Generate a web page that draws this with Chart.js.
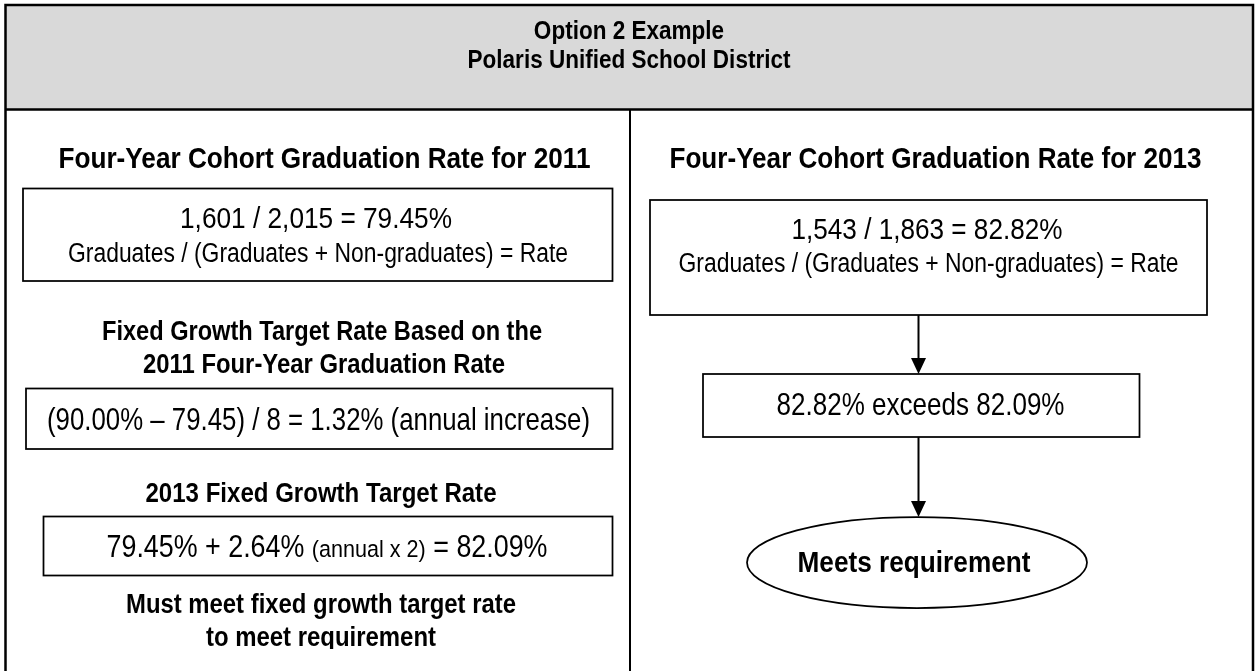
<!DOCTYPE html>
<html>
<head>
<meta charset="utf-8">
<script src="https://cdn.jsdelivr.net/npm/chart.js@4.4.1/dist/chart.umd.min.js"></script>
<style>
  html, body { margin: 0; padding: 0; background: #fff; }
  #wrap { width: 1255px; height: 671px; position: relative; }
</style>
</head>
<body>
<div id="wrap"><canvas id="flow"></canvas></div>
<script>
// --- Data (values as printed in the figure) ---
const titleLines = ['Option 2 Example', 'Polaris Unified School District'];
const years = [2011, 2013];
const graduates = [1601, 1543];
const cohortTotals = [2015, 1863];
const rates = [79.45, 82.82];
const goalRate = 90.00;
const yearsToGoal = 8;
const annualIncrease = 1.32;
const increaseToDate = 2.64;
const targetRate = 82.09;
const outcomeLabel = 'Meets requirement';

// --- Layout (page units, mapped through the chart's scales) ---
const FRAME = { left: 5.5, right: 1253, top: 5, headerBottom: 109.5, divider: 630, bottom: 671 };
const FONT = '"Liberation Sans", Arial, sans-serif';

const fmtInt = n => n.toLocaleString('en-US');
const fmtPct = n => n.toFixed(2) + '%';

function natWidth(ctx, str, size, bold) {
    ctx.font = (bold ? 'bold ' : '') + size + 'px ' + FONT;
    return ctx.measureText(str).width;
}

// draw a run of [text, size, bold] pieces centred on cx, squeezed to fitW (narrow face look)
function drawRuns(ctx, runs, cx, y, fitW) {
    let total = 0;
    runs.forEach(r => { total += natWidth(ctx, r[0], r[1], r[2]); });
    const k = fitW ? fitW / total : 0.85;
    let x = cx - total * k / 2;
    runs.forEach(r => {
        const w = natWidth(ctx, r[0], r[1], r[2]);
        ctx.save();
        ctx.translate(x, y);
        ctx.scale(k, 1);
        ctx.textAlign = 'left';
        ctx.textBaseline = 'alphabetic';
        ctx.fillStyle = '#000';
        ctx.fillText(r[0], 0, 0);
        ctx.restore();
        x += w * k;
    });
}

const flowPlugin = {
    id: 'flowchart',
    afterDraw(chart) {
        const ctx = chart.ctx;
        const sx = chart.scales.x, sy = chart.scales.y;
        const px = v => sx.getPixelForValue(v);
        const py = v => sy.getPixelForValue(v);
        const pw = (a, b) => px(b) - px(a);

        const text = (str, cx, y, size, bold, fitW) =>
            drawRuns(ctx, [[str, size, bold]], px(cx), py(y), fitW ? pw(0, fitW) : 0);
        const box = (x0, y0, x1, y1) => {
            ctx.save();
            ctx.strokeStyle = '#000';
            ctx.lineWidth = 1.75;
            ctx.strokeRect(px(x0), py(y0), px(x1) - px(x0), py(y1) - py(y0));
            ctx.restore();
        };
        const arrow = (x, y0, y1) => {
            ctx.save();
            ctx.strokeStyle = '#000';
            ctx.fillStyle = '#000';
            ctx.lineWidth = 2;
            ctx.beginPath();
            ctx.moveTo(px(x), py(y0));
            ctx.lineTo(px(x), py(y1 - 12));
            ctx.stroke();
            ctx.beginPath();
            ctx.moveTo(px(x) - 7.5, py(y1 - 16));
            ctx.lineTo(px(x) + 7.5, py(y1 - 16));
            ctx.lineTo(px(x), py(y1));
            ctx.closePath();
            ctx.fill();
            ctx.restore();
        };

        // header band + frame
        ctx.save();
        ctx.fillStyle = '#d9d9d9';
        ctx.fillRect(px(FRAME.left), py(FRAME.top), pw(FRAME.left, FRAME.right), py(FRAME.headerBottom) - py(FRAME.top));
        ctx.strokeStyle = '#000';
        ctx.lineWidth = 2.5;
        ctx.beginPath();
        ctx.moveTo(px(FRAME.left), py(FRAME.bottom));
        ctx.lineTo(px(FRAME.left), py(FRAME.top));
        ctx.lineTo(px(FRAME.right), py(FRAME.top));
        ctx.lineTo(px(FRAME.right), py(FRAME.bottom));
        ctx.moveTo(px(FRAME.left), py(FRAME.headerBottom));
        ctx.lineTo(px(FRAME.right), py(FRAME.headerBottom));
        ctx.stroke();
        ctx.lineWidth = 2;
        ctx.beginPath();
        ctx.moveTo(px(FRAME.divider), py(FRAME.headerBottom));
        ctx.lineTo(px(FRAME.divider), py(FRAME.bottom));
        ctx.stroke();
        ctx.restore();

        text(titleLines[0], 629, 39, 26.5, true);
        text(titleLines[1], 629, 68, 26.5, true);

        // left column
        const rateLine = 'Graduates / (Graduates + Non-graduates) = Rate';
        text('Four-Year Cohort Graduation Rate for ' + years[0], 324.5, 168, 30, true, 532);
        box(23, 188.5, 612.5, 281);
        text(fmtInt(graduates[0]) + ' / ' + fmtInt(cohortTotals[0]) + ' = ' + fmtPct(rates[0]), 316, 228, 29, false, 272);
        text(rateLine, 318, 262, 27, false, 500);

        text('Fixed Growth Target Rate Based on the', 322, 340, 27, true, 440);
        text(years[0] + ' Four-Year Graduation Rate', 324, 373, 27, true, 362);
        box(26, 388.5, 612.5, 449);
        text('(' + fmtPct(goalRate) + ' \u2013 ' + rates[0].toFixed(2) + ') / ' + yearsToGoal + ' = ' +
             fmtPct(annualIncrease) + ' (annual increase)', 318.5, 430, 30.5, false, 543);

        text(years[1] + ' Fixed Growth Target Rate', 321, 502, 27, true, 351);
        box(43.5, 516.5, 612.5, 575.5);
        drawRuns(ctx, [
            [fmtPct(rates[0]) + ' + ' + fmtPct(increaseToDate) + ' ', 30.5, false],
            ['(annual x 2)', 24.5, false],
            [' = ' + fmtPct(targetRate), 30.5, false]
        ], px(327), py(557), pw(0, 441));

        text('Must meet fixed growth target rate', 321, 613, 28, true, 390);
        // last line is clipped just under the baseline in the source
        ctx.save();
        ctx.beginPath();
        ctx.rect(px(FRAME.left), py(600), pw(FRAME.left, FRAME.divider), py(649) - py(600));
        ctx.clip();
        text('to meet requirement', 321, 646, 28, true, 230);
        ctx.restore();

        // right column
        text('Four-Year Cohort Graduation Rate for ' + years[1], 935.5, 168, 30, true, 532);
        box(650, 200, 1207, 315);
        text(fmtInt(graduates[1]) + ' / ' + fmtInt(cohortTotals[1]) + ' = ' + fmtPct(rates[1]), 927, 239, 29, false, 271);
        text(rateLine, 928.5, 272, 27, false, 500);

        arrow(918.5, 315, 374);
        box(703, 374, 1139.5, 437);
        text(fmtPct(rates[1]) + ' exceeds ' + fmtPct(targetRate), 920.5, 415, 30.5, false, 288);

        arrow(918.5, 437, 517);
        ctx.save();
        ctx.beginPath();
        ctx.ellipse(px(917), py(562.5), pw(917, 1087), py(608) - py(562.5), 0, 0, Math.PI * 2);
        ctx.fillStyle = '#fff';
        ctx.fill();
        ctx.strokeStyle = '#000';
        ctx.lineWidth = 1.75;
        ctx.stroke();
        ctx.restore();
        text(outcomeLabel, 914, 572, 30, true, 233);
    }
};

new Chart(document.getElementById('flow'), {
    type: 'scatter',
    data: { datasets: [{ data: [] }] },
    options: {
        responsive: true,
        maintainAspectRatio: false,
        animation: false,
        events: [],
        layout: { padding: 0 },
        plugins: { legend: { display: false }, tooltip: { enabled: false } },
        scales: {
            x: { type: 'linear', min: 0, max: 1255, display: false },
            y: { type: 'linear', min: 0, max: 671, reverse: true, display: false }
        }
    },
    plugins: [flowPlugin]
});
</script>
</body>
</html>
